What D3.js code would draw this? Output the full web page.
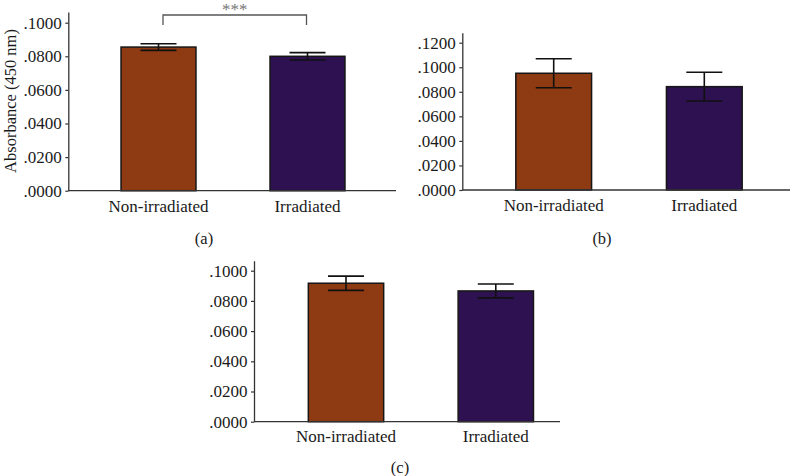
<!DOCTYPE html>
<html>
<head>
<meta charset="utf-8">
<script src="https://cdn.jsdelivr.net/npm/d3@7"></script>
<style>
  body { margin: 0; background: #fff; }
  svg { display: block; }
</style>
</head>
<body>
<svg id="chart" width="797" height="476" font-family="'Liberation Serif', 'Times New Roman', 'DejaVu Serif', serif"></svg>
<script>
// ---- data ----
const categories = ["Non-irradiated", "Irradiated"];
const colors = ["#8e3a13", "#2e1150"];

const meansA = [0.0855, 0.0800];
const errA   = [0.0020, 0.0022];
const ticksA = [0, 0.02, 0.04, 0.06, 0.08, 0.10];

const meansB = [0.0951, 0.0842];
const errB   = [0.0118, 0.0117];
const ticksB = [0, 0.02, 0.04, 0.06, 0.08, 0.10, 0.12];

const meansC = [0.0917, 0.0866];
const errC   = [0.0047, 0.0046];
const ticksC = [0, 0.02, 0.04, 0.06, 0.08, 0.10];

const panelLabels = ["(a)", "(b)", "(c)"];
const yTitle = "Absorbance (450 nm)";
const sigLabel = "***";

// ---- layout ----
const FONT = "'Liberation Serif', 'Times New Roman', 'DejaVu Serif', serif";
const svg = d3.select("#chart");
const fmt = v => d3.format(".4f")(v).replace(/^0/, "");

const panels = [
  { means: meansA, err: errA, ticks: ticksA, x0: 68.3, xEnd: 396, yBottom: 190.7, yTopTick: 22.7, yAxisTop: 12,
    bandRange: [84, 382], label: panelLabels[0], labelX: 204, labelY: 244, catY: 212 },
  { means: meansB, err: errB, ticks: ticksB, x0: 462.3, xEnd: 790, yBottom: 190, yTopTick: 42.7, yAxisTop: 32.7,
    bandRange: [478.4, 779.6], label: panelLabels[1], labelX: 602, labelY: 244, catY: 211 },
  { means: meansC, err: errC, ticks: ticksC, x0: 254, xEnd: 560, yBottom: 421.7, yTopTick: 270.7, yAxisTop: 260.7,
    bandRange: [271.1, 570.7], label: panelLabels[2], labelX: 400, labelY: 473, catY: 442 }
];

panels.forEach((p, pi) => {
  const g = svg.append("g");
  const tMax = p.ticks[p.ticks.length - 1];
  const y = d3.scaleLinear().domain([0, tMax]).range([p.yBottom, p.yTopTick]);
  const yTopVal = y.invert(p.yAxisTop);
  const yAxisScale = d3.scaleLinear().domain([0, yTopVal]).range([p.yBottom, p.yAxisTop]);
  const x = d3.scaleBand().domain(categories).range(p.bandRange).paddingInner(0.497).paddingOuter(0.2485);

  // bars
  g.selectAll("rect.bar").data(categories).join("rect")
    .attr("class", "bar")
    .attr("x", d => x(d))
    .attr("width", x.bandwidth())
    .attr("y", (d, i) => y(p.means[i]))
    .attr("height", (d, i) => p.yBottom - y(p.means[i]))
    .attr("fill", (d, i) => colors[i])
    .attr("stroke", "#161616")
    .attr("stroke-width", 1.5);

  // error bars
  const capW = 18;
  categories.forEach((c, i) => {
    const cx = x(c) + x.bandwidth() / 2;
    const hi = y(p.means[i] + p.err[i]);
    const lo = y(p.means[i] - p.err[i]);
    const eg = g.append("g").attr("stroke", "#111").attr("stroke-width", 1.6);
    eg.append("line").attr("x1", cx).attr("x2", cx).attr("y1", hi).attr("y2", lo);
    eg.append("line").attr("x1", cx - capW).attr("x2", cx + capW).attr("y1", hi).attr("y2", hi);
    eg.append("line").attr("x1", cx - capW).attr("x2", cx + capW).attr("y1", lo).attr("y2", lo);
  });

  // y axis
  const ax = g.append("g").attr("transform", `translate(${p.x0},0)`)
    .call(d3.axisLeft(yAxisScale).tickValues(p.ticks).tickFormat(fmt).tickSize(3).tickSizeOuter(0).tickPadding(3.6));
  ax.attr("font-family", FONT).attr("font-size", 17);
  ax.select(".domain").attr("stroke", "#333").attr("stroke-width", 1.3);
  ax.selectAll(".tick line").attr("stroke", "#333").attr("stroke-width", 1.2);
  ax.selectAll(".tick text").attr("fill", "#1a1a1a");

  // x axis line
  g.append("line").attr("x1", p.x0).attr("x2", p.xEnd).attr("y1", p.yBottom).attr("y2", p.yBottom)
    .attr("stroke", "#333").attr("stroke-width", 1.3);

  // category labels
  g.selectAll("text.cat").data(categories).join("text")
    .attr("class", "cat")
    .attr("x", d => x(d) + x.bandwidth() / 2)
    .attr("y", p.catY)
    .attr("text-anchor", "middle")
    .attr("font-family", FONT)
    .attr("font-size", 17)
    .attr("fill", "#1a1a1a")
    .text(d => d);

  // panel label
  g.append("text").attr("x", p.labelX).attr("y", p.labelY).attr("text-anchor", "middle")
    .attr("font-family", FONT)
    .attr("font-size", 16.5).attr("fill", "#1a1a1a").text(p.label);

  if (pi === 0) {
    // y title
    g.append("text")
      .attr("transform", `translate(16,101) rotate(-90)`)
      .attr("text-anchor", "middle")
      .attr("font-family", FONT)
      .attr("font-size", 16.5)
      .attr("fill", "#1a1a1a")
      .text(yTitle);
    // significance bracket
    const c1 = x(categories[0]) + x.bandwidth() / 2 + 4.5;
    const c2 = x(categories[1]) + x.bandwidth() / 2 - 1;
    const by = 15, bd = 25;
    g.append("path")
      .attr("d", `M${c1},${bd}V${by}H${c2}V${bd}`)
      .attr("fill", "none").attr("stroke", "#555").attr("stroke-width", 1.3);
    g.append("text").attr("x", (c1 + c2) / 2).attr("y", 15).attr("text-anchor", "middle")
      .attr("font-family", FONT)
      .attr("font-size", 17).attr("fill", "#777").text(sigLabel);
  }
});
</script>
</body>
</html>
